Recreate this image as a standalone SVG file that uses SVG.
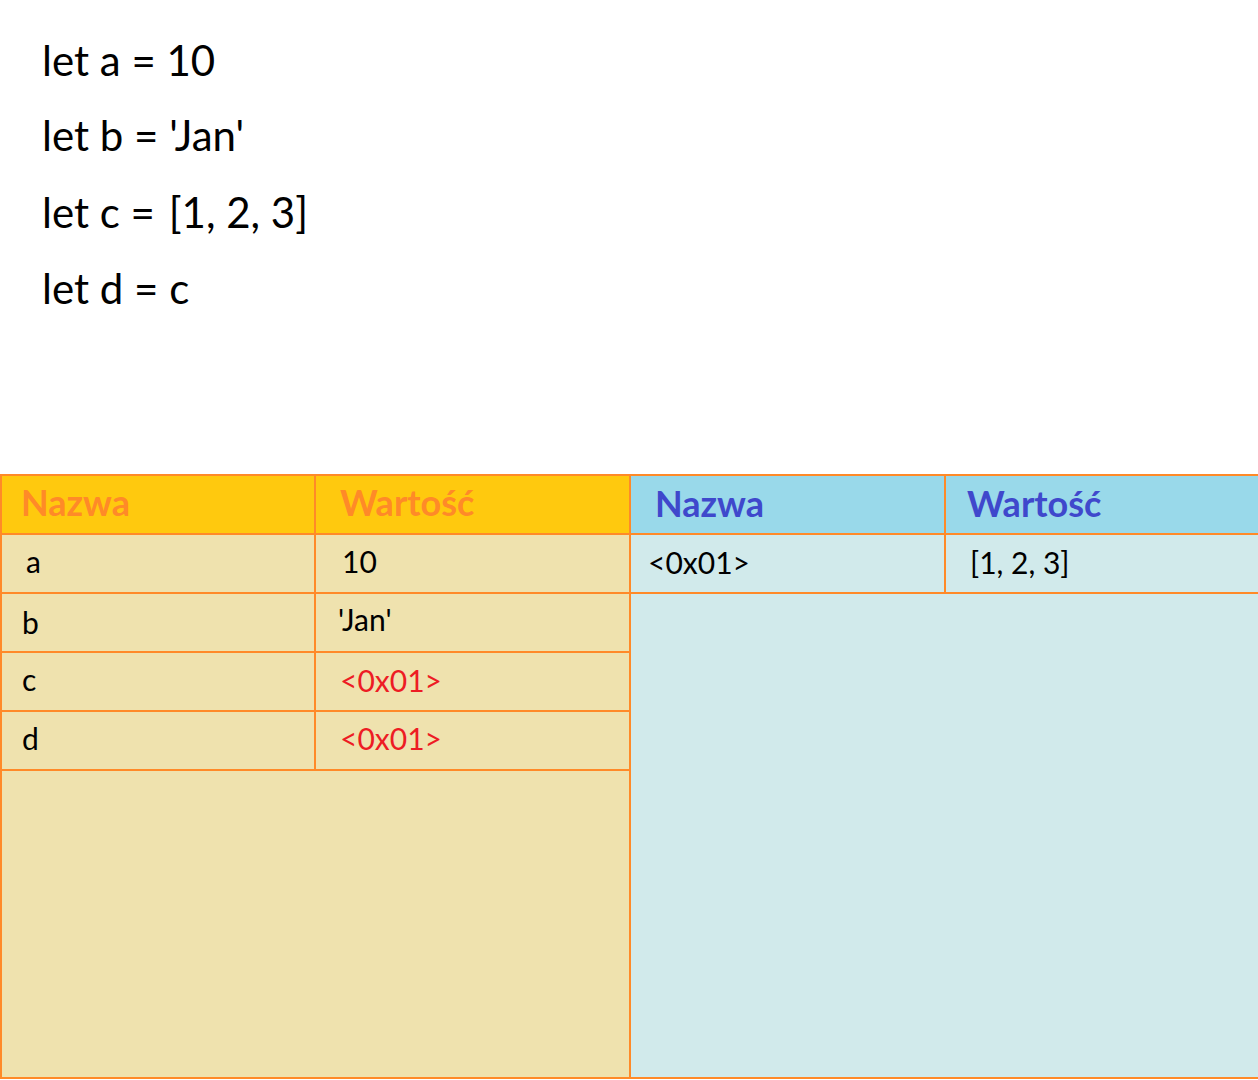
<svg xmlns="http://www.w3.org/2000/svg" width="1258" height="1080" viewBox="0 0 1258 1080">
  <style>
    .code { font-family: Lato, "Open Sans", "Liberation Sans", sans-serif; font-size: 42px; fill: #000; }
    .cell { font-family: Lato, "Open Sans", "Liberation Sans", sans-serif; font-size: 30px; fill: #000; }
    .ref { fill: #ED1C24; }
    .hdr { font-family: Lato, "Open Sans", "Liberation Sans", sans-serif; font-size: 36px; font-weight: bold; }
    .hdr-l { fill: #FF8A28; }
    .hdr-r { fill: #3F48CC; }
    .grid { stroke: #FF8A28; stroke-width: 2; fill: none; }
  </style>
  <rect width="1258" height="1080" fill="#FFFFFF"/>

  <!-- source code -->
  <g id="code">
    <text class="code" x="42" y="76">let a = 10</text>
    <text class="code" x="42" y="151">let b = 'Jan'</text>
    <text class="code" x="42" y="228">let c = <tspan dx="3">[1, 2, 3]</tspan></text>
    <text class="code" x="42" y="304">let d = c</text>
  </g>

  <!-- stack: names and values -->
  <g id="stack">
    <rect x="0" y="474" width="630" height="60" fill="#FFC90E"/>
    <rect x="0" y="534" width="630" height="545" fill="#EFE2AE"/>
    <text class="hdr hdr-l" x="21" y="516">Nazwa</text>
    <text class="hdr hdr-l" x="340" y="516">Wartość</text>
    <text class="cell" x="26" y="573">a</text>
    <text class="cell" x="342" y="573">10</text>
    <text class="cell" x="22" y="634">b</text>
    <text class="cell" x="338" y="631">'Jan'</text>
    <text class="cell" x="22" y="691">c</text>
    <text class="cell ref" x="340" y="692">&lt;0x01&gt;</text>
    <text class="cell" x="22" y="750">d</text>
    <text class="cell ref" x="340" y="750">&lt;0x01&gt;</text>
  </g>

  <!-- heap: addresses and values -->
  <g id="heap">
    <rect x="630" y="474" width="628" height="60" fill="#99D9EA"/>
    <rect x="630" y="534" width="628" height="545" fill="#D1EAEB"/>
    <text class="hdr hdr-r" x="655" y="517">Nazwa</text>
    <text class="hdr hdr-r" x="967" y="517">Wartość</text>
    <text class="cell" x="648" y="574">&lt;0x01&gt;</text>
    <text class="cell" x="970" y="574">[1, 2, 3]</text>
  </g>

  <!-- table grid lines -->
  <g id="grid" class="grid">
    <line x1="0" y1="475" x2="1258" y2="475"/>
    <line x1="0" y1="534" x2="1258" y2="534"/>
    <line x1="0" y1="593" x2="1258" y2="593"/>
    <line x1="0" y1="652" x2="630" y2="652"/>
    <line x1="0" y1="711" x2="630" y2="711"/>
    <line x1="0" y1="770" x2="630" y2="770"/>
    <line x1="0" y1="1078" x2="1258" y2="1078"/>
    <line x1="1" y1="474" x2="1" y2="1079"/>
    <line x1="315" y1="474" x2="315" y2="770"/>
    <line x1="630" y1="474" x2="630" y2="1079"/>
    <line x1="945" y1="474" x2="945" y2="593"/>
  </g>
</svg>
